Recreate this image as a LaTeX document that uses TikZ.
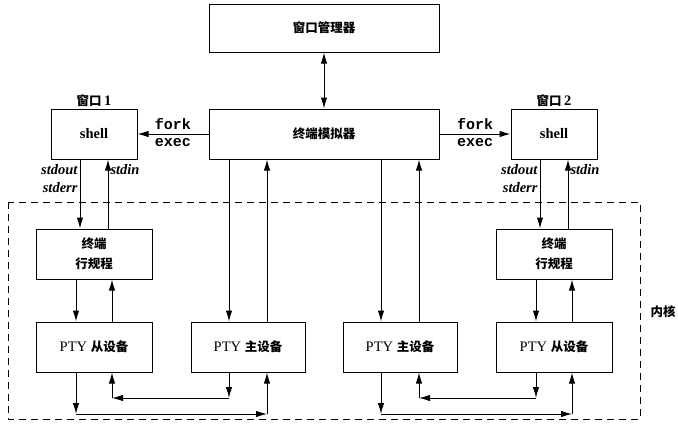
\documentclass[tikz,border=0pt]{standalone}
\usepackage{fontspec}
\setmainfont{Liberation Serif}
\setmonofont{Liberation Mono}
\newfontfamily\cjk{Noto Sans CJK SC}
\usetikzlibrary{arrows.meta}
\newcommand{\zhText}[1]{{\cjk\bfseries\fontsize{12.5}{20}\selectfont #1}}
\newcommand{\ioText}[1]{{\itshape\bfseries #1}}

\begin{document}
\begin{tikzpicture}[x=1pt,y=-1pt,
  box/.style={draw, line width=1pt, minimum height=50pt, inner sep=0pt, align=center, font=\fontsize{14.5}{20}\selectfont},
  arr/.style={-{Latex[length=11pt,width=6.5pt]}, line width=1pt},
  dbl/.style={{Latex[length=11pt,width=6.5pt]}-{Latex[length=11pt,width=6.5pt]}, line width=1pt},
  lbl/.style={font=\fontsize{14.5}{18}\selectfont, inner sep=2pt},
  cmd/.style={font=\fontsize{15}{18}\selectfont\ttfamily\bfseries, inner sep=4pt}]
\useasboundingbox (0,0) rectangle (678,429);
\draw[line width=1pt, dash pattern=on 7pt off 5pt] (8,202) rectangle (640,419);
\node[box, minimum width=230pt, minimum height=48pt] (wm) at (324,28) {\zhText{窗口管理器}};
\node[box, minimum width=230pt] (term) at (324,134) {\zhText{终端模拟器}};
\node[box, minimum width=86pt] (sh1) at (94,134) {\bfseries shell};
\node[box, minimum width=86pt] (sh2) at (554,134) {\bfseries shell};
\node[lbl, anchor=south] (w1) at (sh1.north) {\zhText{窗口}\,\textbf{1}};
\node[lbl, anchor=south] (w2) at (sh2.north) {\zhText{窗口}\,\textbf{2}};
\node[box, minimum width=116pt] (ld1) at (94,254) {\zhText{终端}\\\zhText{行规程}};
\node[box, minimum width=116pt] (ld2) at (554,254) {\zhText{终端}\\\zhText{行规程}};
\node[box, minimum width=116pt] (slv1) at (94,347) {PTY \zhText{从设备}};
\node[box, minimum width=114pt] (mst1) at (248,347) {PTY \zhText{主设备}};
\node[box, minimum width=114pt] (mst2) at (400,347) {PTY \zhText{主设备}};
\node[box, minimum width=116pt] (slv2) at (554,347) {PTY \zhText{从设备}};
\node[lbl] (kern) at (663,312) {\zhText{内核}};
\draw[dbl] (wm.south) -- (term.north);
\draw[arr] (term.west) -- node[cmd, above]{fork} node[cmd, below]{exec} (sh1.east);
\draw[arr] (term.east) -- node[cmd, above]{fork} node[cmd, below]{exec} (sh2.west);
\draw[arr] ([xshift=-14pt]sh1.south) -- node[lbl, left, pos=0.27, align=right]{\ioText{stdout}\\\ioText{stderr}} ([xshift=-14pt]ld1.north);
\draw[arr] ([xshift=14pt]ld1.north) -- node[lbl, right, pos=0.86]{\ioText{stdin}} ([xshift=14pt]sh1.south);
\draw[arr] ([xshift=-14pt]sh2.south) -- node[lbl, left, pos=0.27, align=right]{\ioText{stdout}\\\ioText{stderr}} ([xshift=-14pt]ld2.north);
\draw[arr] ([xshift=14pt]ld2.north) -- node[lbl, right, pos=0.86]{\ioText{stdin}} ([xshift=14pt]sh2.south);
\draw[arr] ([xshift=-18pt]ld1.south) -- ([xshift=-18pt]slv1.north);
\draw[arr] ([xshift=18pt]slv1.north) -- ([xshift=18pt]ld1.south);
\draw[arr] ([xshift=-18pt]ld2.south) -- ([xshift=-18pt]slv2.north);
\draw[arr] ([xshift=18pt]slv2.north) -- ([xshift=18pt]ld2.south);
\draw[arr] ([xshift=-95pt]term.south) -- ([xshift=-19pt]mst1.north);
\draw[arr] ([xshift=19pt]mst1.north) -- ([xshift=-57pt]term.south);
\draw[arr] ([xshift=57pt]term.south) -- ([xshift=-19pt]mst2.north);
\draw[arr] ([xshift=19pt]mst2.north) -- ([xshift=95pt]term.south);
\coordinate (c1) at (76,414);
\coordinate (c2) at (267,414);
\coordinate (c3) at (229,398);
\coordinate (c4) at (112,398);
\coordinate (c5) at (381,414);
\coordinate (c6) at (572,414);
\coordinate (c7) at (536,398);
\coordinate (c8) at (419,398);
\draw[arr] (slv1.south -| c1) -- (c1);
\draw[arr] (c1) -- (c2);
\draw[arr] (c2) -- (mst1.south -| c2);
\draw[arr] (mst1.south -| c3) -- (c3);
\draw[arr] (c3) -- (c4);
\draw[arr] (c4) -- (slv1.south -| c4);
\draw[arr] (mst2.south -| c5) -- (c5);
\draw[arr] (c5) -- (c6);
\draw[arr] (c6) -- (slv2.south -| c6);
\draw[arr] (slv2.south -| c7) -- (c7);
\draw[arr] (c7) -- (c8);
\draw[arr] (c8) -- (mst2.south -| c8);
\end{tikzpicture}
\end{document}
